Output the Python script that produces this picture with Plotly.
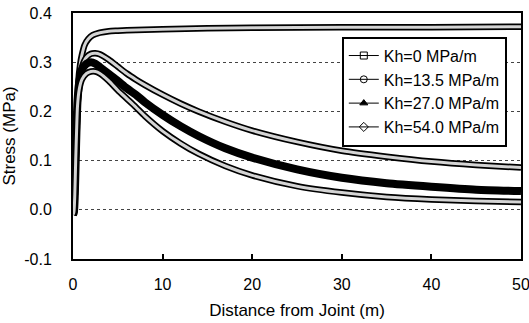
import plotly.graph_objects as go

# Distance from joint (m)
x_kh0 = [0, 0.1, 0.2, 0.3, 0.4, 0.5, 0.6, 0.8, 1.0, 1.3, 1.7, 2.2, 3, 4, 5, 6, 8, 10, 15, 20, 30, 40, 50]
y_kh0 = [-0.01, -0.005, 0.03, 0.09, 0.15, 0.2, 0.26, 0.295, 0.315, 0.335, 0.347, 0.355, 0.36, 0.363,
         0.364, 0.365, 0.366, 0.367, 0.369, 0.37, 0.371, 0.371, 0.372]

x_common = [0, 0.1, 0.2, 0.3, 0.4, 0.5, 0.7, 1.0, 1.5, 2.0, 2.5, 3, 4, 5, 6, 7, 8, 10, 12, 14, 17, 20,
            25, 30, 35, 40, 45, 50]
y_kh135 = [-0.01, -0.005, 0.03, 0.1, 0.17, 0.22, 0.26, 0.29, 0.31, 0.317, 0.318, 0.316, 0.305, 0.291,
           0.277, 0.265, 0.254, 0.234, 0.216, 0.2, 0.179, 0.161, 0.138, 0.12, 0.108, 0.098, 0.091, 0.086]
y_kh27 = [-0.01, -0.005, 0.03, 0.1, 0.17, 0.22, 0.26, 0.285, 0.297, 0.3, 0.297, 0.29, 0.276, 0.262,
          0.247, 0.234, 0.219, 0.193, 0.17, 0.15, 0.125, 0.106, 0.082, 0.065, 0.054, 0.047, 0.041, 0.038]
y_kh54 = [-0.01, -0.005, 0.03, 0.1, 0.16, 0.21, 0.245, 0.265, 0.277, 0.281, 0.281, 0.277, 0.262, 0.243,
          0.226, 0.209, 0.191, 0.16, 0.135, 0.114, 0.089, 0.07, 0.048, 0.035, 0.026, 0.021, 0.018, 0.016]

names = ["Kh=0 MPa/m", "Kh=13.5 MPa/m", "Kh=27.0 MPa/m", "Kh=54.0 MPa/m"]
symbols = ["square-open", "circle-open", "triangle-up", "diamond-open"]

x_ticks = [0, 10, 20, 30, 40, 50]
y_ticks = [-0.1, 0.0, 0.1, 0.2, 0.3, 0.4]
y_ticklabels = ["-0.1", "0.0", "0.1", "0.2", "0.3", "0.4"]

series = [(x_kh0, y_kh0, True), (x_common, y_kh135, True), (x_common, y_kh27, False), (x_common, y_kh54, True)]

fig = go.Figure()
for (xs, ys, hollow), nm, sym in zip(series, names, symbols):
    outer_w = 6.5 if hollow else 8
    fig.add_trace(go.Scatter(x=xs, y=ys, mode="lines", showlegend=False, hoverinfo="skip",
                             line=dict(color="black", width=outer_w, shape="spline", smoothing=0.6)))
    if hollow:
        fig.add_trace(go.Scatter(x=xs, y=ys, mode="lines", showlegend=False, hoverinfo="skip",
                                 line=dict(color="#d4d4d4", width=3, shape="spline", smoothing=0.6)))
    fig.add_trace(go.Scatter(x=[None], y=[None], mode="lines+markers", name=nm,
                             line=dict(color="black", width=1),
                             marker=dict(symbol=sym, size=7, color="black",
                                         line=dict(color="black", width=1))))

font = "Liberation Sans, Arial, sans-serif"
fig.update_layout(
    width=529, height=323,
    margin=dict(l=73, r=8, t=13, b=64),
    paper_bgcolor="white", plot_bgcolor="white",
    font=dict(family=font, size=16, color="black"),
    legend=dict(x=0.600, y=0.904, xanchor="left", yanchor="top",
                bgcolor="white", bordercolor="black", borderwidth=2,
                font=dict(size=16), itemwidth=30, tracegroupgap=0),
)
fig.update_xaxes(range=[0, 50], tickvals=x_ticks, ticks="inside", ticklen=5, tickwidth=2,
                 tickcolor="black", showline=True, linecolor="black", linewidth=2, mirror=True,
                 showgrid=False, zeroline=False, ticklabelstandoff=10, automargin=False,
                 ticklabeloverflow="allow",
                 title=dict(text="Distance from Joint (m)", font=dict(size=17), standoff=12))
fig.update_yaxes(range=[-0.1, 0.4], tickvals=y_ticks, ticktext=y_ticklabels, ticks="",
                 showline=True, linecolor="black", linewidth=2, mirror=True,
                 showgrid=True, gridcolor="#444444", griddash="dot", gridwidth=1,
                 zeroline=False, ticklabelstandoff=16, automargin=False,
                 ticklabeloverflow="allow",
                 title=dict(text="Stress (MPa)", font=dict(size=17), standoff=6))

fig.write_html("out.html")
